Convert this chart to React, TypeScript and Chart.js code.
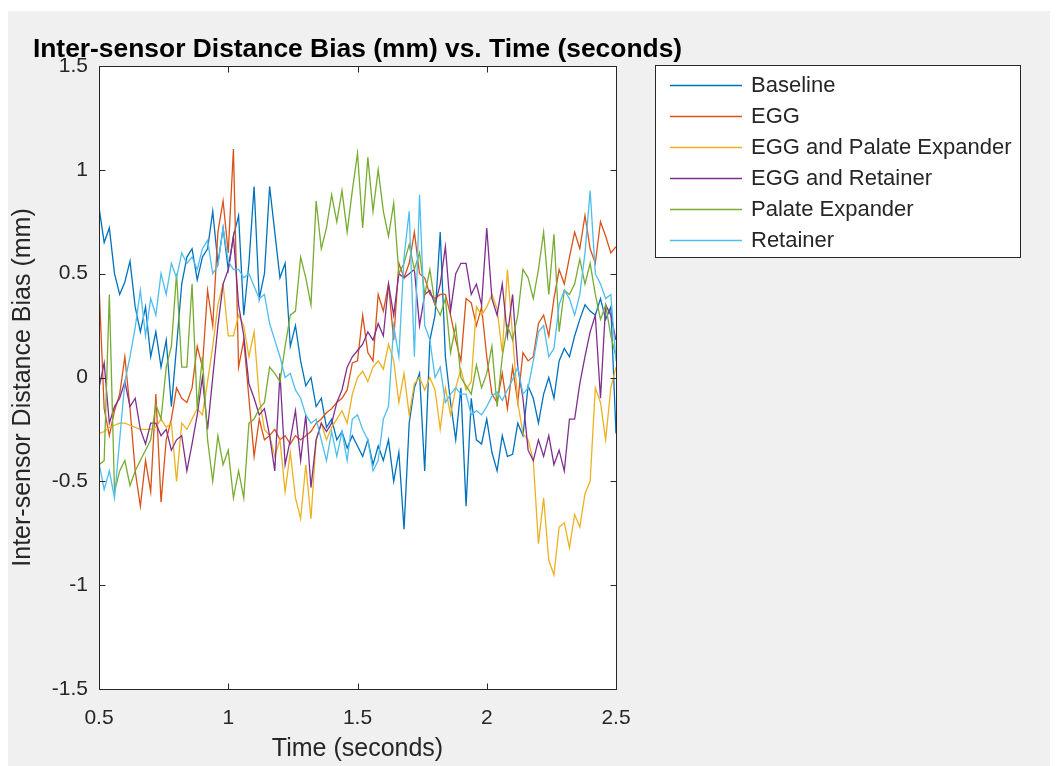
import React, { useEffect, useRef } from "react";
import { Chart, registerables } from "chart.js";

Chart.register(...registerables);

// ---- data ----
const T_START = 0.5;
const T_STEP = 0.02;

const seriesNames = [
  "Baseline",
  "EGG",
  "EGG and Palate Expander",
  "EGG and Retainer",
  "Palate Expander",
  "Retainer",
];
const seriesColors = ["#0072BD", "#D95319", "#EDB120", "#7E2F8E", "#77AC30", "#4DBEEE"];

const baseline = [
  0.82, 0.65, 0.72, 0.5, 0.4, 0.46, 0.56, 0.34, 0.22, 0.34,
  0.1, 0.22, 0.05, 0.18, -0.14, 0.15, 0.45, 0.58, 0.62, 0.47,
  0.58, 0.62, 0.8, 0.55, 0.72, 0.52, 0.68, 0.78, 0.3, 0.55,
  0.92, 0.38, 0.5, 0.92, 0.7, 0.48, 0.55, 0.15, 0.25, 0.08,
  -0.04, 0.0, -0.14, -0.1, -0.24, -0.2, -0.3, -0.26, -0.34, -0.28,
  -0.33, -0.38, -0.3, -0.42, -0.33, -0.4, -0.3, -0.5, -0.36, -0.73,
  -0.22, -0.05, 0.02, -0.45, 0.18, 0.3, 0.7, 0.1, -0.12, -0.3,
  -0.05, -0.62, -0.1, -0.3, -0.32, -0.2, -0.36, -0.45, -0.28, -0.38,
  -0.37, -0.22, -0.28, -0.04, -0.1, -0.22, -0.08, 0.0, -0.1, 0.08,
  0.14, 0.1, 0.2, 0.28, 0.35, 0.32, 0.3, 0.38, 0.28, 0.34,
  -0.27,
];

const egg = [
  0.45, -0.15, -0.28, -0.16, -0.08, 0.1, -0.15, -0.45, -0.62, -0.4,
  -0.55, -0.08, -0.6, -0.3, -0.2, -0.05, -0.1, -0.12, -0.05, 0.15,
  0.05, 0.42, 0.25, 0.7, 0.85, 0.6, 1.1, 0.05, 0.18, -0.1,
  -0.38, -0.2, -0.3, -0.28, -0.25, -0.3, -0.28, -0.32, -0.28, -0.3,
  -0.28, -0.26, -0.22, -0.2, -0.17, -0.15, -0.12, -0.1, -0.06, 0.07,
  0.08, 0.3, 0.12, 0.08, 0.4, 0.32, 0.45, 0.18, 0.55, 0.48,
  0.55, 0.7, 0.5, 0.48, 0.4, 0.38, 0.4, 0.4, 0.3, 0.18,
  0.08, 0.38, 0.36, 0.25, 0.34, 0.1, -0.08, -0.12, 0.02, -0.15,
  0.05, -0.12, 0.12, 0.08, 0.1, 0.26, 0.3, 0.2, 0.38, 0.52,
  0.45, 0.58, 0.7, 0.62, 0.78, 0.62, 0.55, 0.75, 0.68, 0.6,
  0.63,
];

const eggPalateExpander = [
  -0.27, -0.26, -0.24, -0.23, -0.22, -0.22, -0.23, -0.24, -0.25, -0.25,
  -0.25, -0.24, -0.2, -0.24, -0.22, -0.5, -0.22, -0.25, -0.2, -0.15,
  -0.18, -0.02, 0.15, 0.35, 0.45, 0.2, 0.2, 0.3, 0.25, 0.1,
  0.22, -0.1, -0.25, -0.28, -0.38, -0.3, -0.55, -0.36, -0.58, -0.68,
  -0.42, -0.68, -0.3, -0.22, -0.3, -0.24, -0.2, -0.16, -0.22, -0.08,
  0.0, 0.03, -0.02, 0.05, 0.08, 0.04, 0.16, 0.08, -0.12, 0.02,
  -0.18, -0.03, 0.0, -0.06, 0.0, -0.06, -0.25, -0.05, -0.18, -0.05,
  0.04, -0.06, -0.02, 0.34, 0.3, 0.34, 0.4, 0.33, 0.12, 0.52,
  0.2, -0.12, -0.27, -0.3, -0.4, -0.8, -0.58, -0.88, -0.95, -0.72,
  -0.7, -0.82, -0.66, -0.72, -0.56, -0.5, -0.05, -0.12, -0.3, -0.05,
  0.05,
];

const eggRetainer = [
  -0.05, 0.07, -0.22, -0.14, -0.1, -0.02, -0.14, -0.1, -0.25, -0.32,
  -0.22, -0.22, -0.28, -0.25, -0.35, -0.3, -0.28, -0.45, -0.32, -0.18,
  0.0, -0.25, 0.0, 0.25, 0.45, 0.52, 0.68, 0.35, 0.2, -0.03,
  -0.1, -0.18, -0.15, -0.28, -0.45, 0.02, -0.42, -0.3, -0.16, -0.4,
  -0.18, -0.53, -0.3, -0.22, -0.26, -0.22, -0.12, -0.06, 0.05, 0.1,
  0.13, 0.16, 0.22, 0.18, 0.26, 0.2, 0.45, 0.3, 0.5, 0.48,
  0.5, 0.52, 0.25, 0.4, 0.42, 0.35, 0.45, 0.63, 0.32, 0.5,
  0.55, 0.55, 0.4, 0.45, 0.35, 0.72, 0.38, 0.3, 0.45, 0.2,
  0.4, 0.05, -0.1, -0.35, -0.4, -0.3, -0.38, -0.28, -0.42, -0.35,
  -0.45, -0.2, -0.2, -0.03, 0.1, 0.22, 0.3, -0.1, 0.35, 0.3,
  0.18,
];

const palateExpander = [
  -0.42, -0.4, 0.4, -0.55, -0.45, -0.4, -0.52, -0.45, -0.4, -0.35,
  -0.3, -0.13, -0.2, 0.05, 0.15, 0.5, 0.05, 0.05, 0.45, -0.15,
  0.1, -0.3, -0.5, -0.28, -0.42, -0.35, -0.58, -0.45, -0.58, -0.22,
  -0.2, -0.15, -0.12, 0.05, 0.02, -0.02, 0.15, 0.3, 0.32, 0.58,
  0.48, 0.35, 0.85, 0.62, 0.72, 0.88, 0.75, 0.9, 0.7, 0.9,
  1.08, 0.72, 1.06, 0.8, 1.0, 0.8, 0.68, 0.84, 0.5, 0.55,
  0.64, 0.52, 0.6, 0.4, 0.52, 0.35, 0.3, 0.38, 0.12, 0.25,
  0.0, -0.04, -0.08, 0.06, -0.05, 0.02, 0.15, -0.14, 0.1, 0.25,
  0.18, 0.3, 0.52, 0.48, 0.38, 0.52, 0.7, 0.4, 0.69, 0.22,
  0.42, 0.4, 0.45, 0.57, 0.45, 0.55, 0.4, 0.28, 0.35, 0.2,
  0.1,
];

const retainer = [
  -0.41, -0.54, -0.45, -0.58, -0.3, -0.02, 0.1, 0.24, 0.42, 0.2,
  0.38, 0.3, 0.5, 0.4, 0.55, 0.48, 0.6, 0.55, 0.58, 0.52,
  0.62, 0.66, 0.5, 0.54, 0.72, 0.56, 0.52, 0.52, 0.48, 0.5,
  0.44, 0.38, 0.4, 0.26, 0.18, 0.1, 0.0, 0.02, -0.06, -0.1,
  -0.18, -0.22, -0.2, -0.3, -0.4, -0.26, -0.38, -0.26, -0.4, -0.2,
  -0.18, -0.25, -0.3, -0.45, -0.4, -0.2, -0.14, 0.25, 0.1, 0.58,
  0.8, 0.1, 0.88, 0.25, 0.18, 0.0, 0.05, -0.12, -0.08, -0.05,
  -0.08, -0.08, -0.18, -0.16, -0.18, -0.14, -0.09, -0.07, -0.11, -0.06,
  -0.01, 0.05, -0.08, -0.05, 0.08, 0.22, 0.25, 0.1, 0.14, 0.35,
  0.42, 0.38, 0.3, 0.4, 0.6, 0.9, 0.5, 0.45, 0.38, 0.4,
  0.08,
];

const seriesValues = [baseline, egg, eggPalateExpander, eggRetainer, palateExpander, retainer];
const timeValues = baseline.map((_, i) => Math.round((T_START + i * T_STEP) * 100) / 100);

const xTickValues = [0.5, 1, 1.5, 2, 2.5];
const yTickValues = [-1.5, -1, -0.5, 0, 0.5, 1, 1.5];

const chartTitle = "Inter-sensor Distance Bias (mm) vs. Time (seconds)";
const xAxisLabel = "Time (seconds)";
const yAxisLabel = "Inter-sensor Distance Bias (mm)";

// ---- styling ----
const FONT = '"Liberation Sans", Arial, Helvetica, sans-serif';
const AXIS_COLOR = "#262626";

const framePlugin = {
  id: "matlabFrame",
  beforeDraw(chart: any) {
    const { ctx, width, height, chartArea: ca } = chart;
    ctx.save();
    ctx.fillStyle = "#ffffff";
    ctx.fillRect(0, 0, width, height);
    ctx.fillStyle = "#f0f0f0";
    ctx.fillRect(8, 11, 1042, height - 11);
    ctx.fillStyle = "#ffffff";
    ctx.fillRect(ca.left, ca.top, ca.right - ca.left, ca.bottom - ca.top);
    ctx.restore();
  },
  afterDraw(chart: any) {
    const { ctx, chartArea: ca, scales } = chart;
    const xs = scales.x;
    const ys = scales.y;
    ctx.save();
    // axes box
    ctx.strokeStyle = AXIS_COLOR;
    ctx.lineWidth = 1;
    const l = Math.round(ca.left) + 0.5;
    const r = Math.round(ca.right) + 0.5;
    const t = Math.round(ca.top) + 0.5;
    const b = Math.round(ca.bottom) + 0.5;
    ctx.strokeRect(l, t, r - l, b - t);
    // inward tick marks
    const TL = 6;
    ctx.beginPath();
    yTickValues.forEach((v) => {
      const py = Math.round(ys.getPixelForValue(v)) + 0.5;
      ctx.moveTo(l, py);
      ctx.lineTo(l + TL, py);
      ctx.moveTo(r, py);
      ctx.lineTo(r - TL, py);
    });
    xTickValues.forEach((v) => {
      const px = Math.round(xs.getPixelForValue(v)) + 0.5;
      ctx.moveTo(px, b);
      ctx.lineTo(px, b - TL);
      ctx.moveTo(px, t);
      ctx.lineTo(px, t + TL);
    });
    ctx.stroke();

    // y-axis label
    ctx.fillStyle = AXIS_COLOR;
    ctx.font = `25px ${FONT}`;
    ctx.textAlign = "center";
    ctx.textBaseline = "middle";
    ctx.save();
    ctx.translate(23, (ca.top + ca.bottom) / 2 + 10);
    ctx.rotate(-Math.PI / 2);
    ctx.fillText(yAxisLabel, 0, 0);
    ctx.restore();

    // title centred over the axes
    ctx.fillStyle = "#000000";
    ctx.font = `bold 26.4px ${FONT}`;
    ctx.textAlign = "center";
    ctx.textBaseline = "alphabetic";
    ctx.fillText(chartTitle, (ca.left + ca.right) / 2, 57);

    // legend box
    const LX = 655.5, LY = 65.5, LW = 365, LH = 192;
    ctx.fillStyle = "#ffffff";
    ctx.fillRect(LX, LY, LW, LH);
    ctx.strokeStyle = AXIS_COLOR;
    ctx.strokeRect(LX, LY, LW, LH);
    ctx.font = `22px ${FONT}`;
    ctx.textAlign = "left";
    ctx.textBaseline = "middle";
    chart.data.datasets.forEach((ds: any, i: number) => {
      const y = 85 + i * 31;
      ctx.strokeStyle = ds.borderColor;
      ctx.lineWidth = 1.3;
      ctx.beginPath();
      ctx.moveTo(670, y + 0.5);
      ctx.lineTo(742, y + 0.5);
      ctx.stroke();
      ctx.fillStyle = AXIS_COLOR;
      ctx.fillText(ds.label, 751, y + 1);
    });
    ctx.restore();
  },
};

const fmt = (v: any) => String(v);

export default function App() {
  const canvasRef = useRef<HTMLCanvasElement>(null);

  useEffect(() => {
    document.body.style.margin = "0";
    const canvas = canvasRef.current;
    if (!canvas) return;
    Chart.defaults.font.family = FONT;

    const datasets = seriesNames.map((name, i) => ({
      label: name,
      data: seriesValues[i].map((v, j) => ({ x: timeValues[j], y: v })),
      borderColor: seriesColors[i],
      backgroundColor: seriesColors[i],
      borderWidth: 1.3,
      pointRadius: 0,
      tension: 0,
      fill: false,
      order: seriesNames.length - 1 - i,
    }));

    const chart = new Chart(canvas, {
      type: "line",
      data: { datasets },
      options: {
        animation: false,
        responsive: false,
        devicePixelRatio: 1,
        events: [],
        layout: { padding: { left: 8, right: 441, top: 66, bottom: 2 } },
        plugins: {
          legend: { display: false },
          tooltip: { enabled: false },
          title: { display: false },
        },
        scales: {
          x: {
            type: "linear",
            min: 0.5,
            max: 2.5,
            afterBuildTicks: (scale: any) => {
              scale.ticks = xTickValues.map((v) => ({ value: v }));
            },
            afterFit: (scale: any) => {
              scale.height = 75;
              scale.paddingLeft = 0;
              scale.paddingRight = 0;
            },
            grid: { display: false, drawTicks: false },
            border: { display: false },
            ticks: {
              color: AXIS_COLOR,
              font: { size: 21, family: FONT },
              padding: 17,
              maxRotation: 0,
              autoSkip: false,
              callback: fmt,
            },
            title: {
              display: true,
              text: xAxisLabel,
              color: AXIS_COLOR,
              font: { size: 25, family: FONT },
              padding: 0,
            },
          },
          y: {
            type: "linear",
            min: -1.5,
            max: 1.5,
            afterBuildTicks: (scale: any) => {
              scale.ticks = yTickValues.map((v) => ({ value: v }));
            },
            afterFit: (scale: any) => {
              scale.width = 91;
              scale.paddingTop = 0;
              scale.paddingBottom = 0;
            },
            grid: { display: false, drawTicks: false },
            border: { display: false },
            ticks: {
              color: AXIS_COLOR,
              font: { size: 21, family: FONT },
              padding: 11,
              autoSkip: false,
              callback: fmt,
            },
            title: { display: false },
          },
        },
      },
      plugins: [framePlugin],
    } as any);

    return () => chart.destroy();
  }, []);

  return (
    <div style={{ position: "fixed", left: 0, top: 0, width: 1057, height: 766 }}>
      <canvas
        ref={canvasRef}
        width={1057}
        height={766}
        style={{ display: "block", width: 1057, height: 766 }}
      />
    </div>
  );
}
